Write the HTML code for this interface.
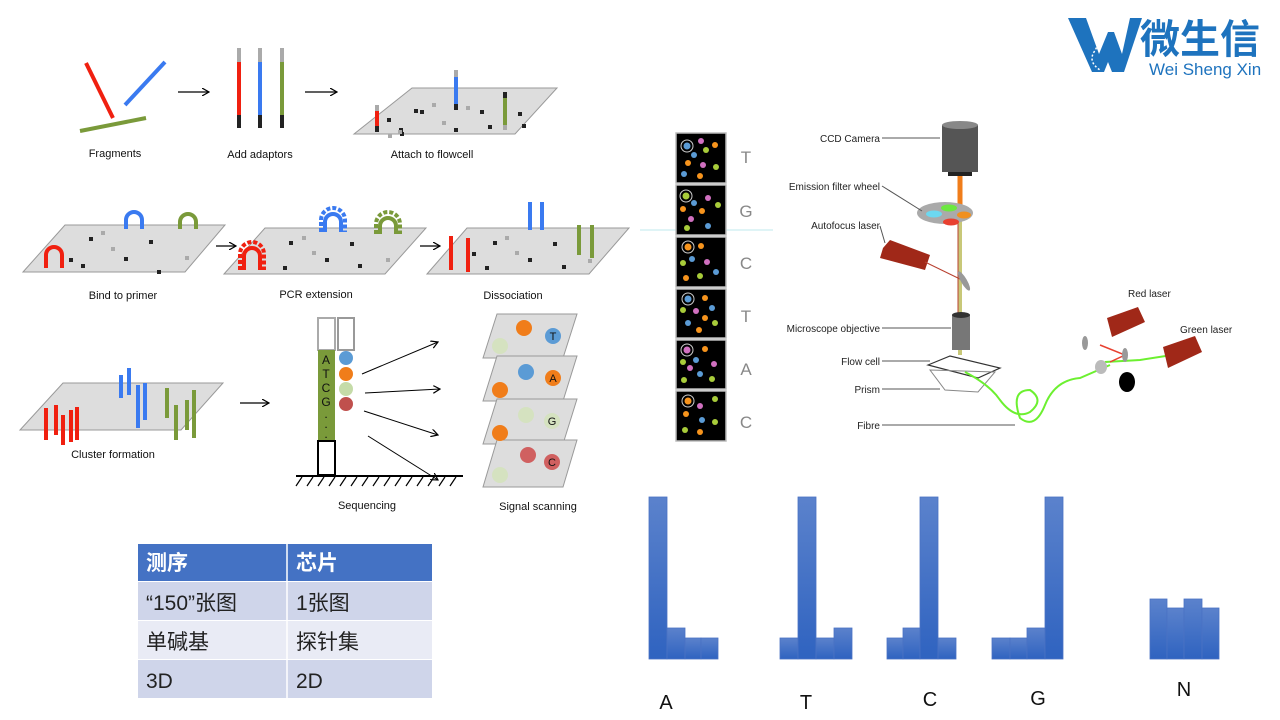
<!DOCTYPE html>
<html><head><meta charset="utf-8"><style>
body{margin:0;background:#fff;width:1280px;height:720px;overflow:hidden;font-family:"Liberation Sans","Noto Sans CJK SC",sans-serif}
svg{position:absolute;left:0;top:0}
.l{font-family:"Liberation Sans",sans-serif;font-size:11px;fill:#111}
.g{font-family:"Liberation Sans",sans-serif;font-size:10px;fill:#222}
.tc{font-family:"Liberation Sans","Noto Sans CJK SC",sans-serif;font-size:21px}
</style></head><body>
<svg width="1280" height="720" viewBox="0 0 1280 720">
<defs>
<marker id="ar" markerWidth="8" markerHeight="8" refX="7" refY="4" orient="auto" markerUnits="userSpaceOnUse"><path d="M0,0 L7,4 L0,8" fill="none" stroke="#000" stroke-width="1.2"/></marker>
<linearGradient id="bar" x1="0" y1="0" x2="0" y2="1"><stop offset="0" stop-color="#5b82cc"/><stop offset="1" stop-color="#2f63c0"/></linearGradient>
</defs>

<!-- Row 1 -->
<line x1="86" y1="63" x2="113" y2="118" stroke="#f02010" stroke-width="4"/>
<line x1="125" y1="105" x2="165" y2="62" stroke="#3a7af0" stroke-width="4"/>
<line x1="80" y1="131" x2="146" y2="118" stroke="#7a9a3a" stroke-width="4"/>
<text class="l" x="115" y="157" text-anchor="middle">Fragments</text>
<line x1="178" y1="92" x2="209" y2="92" stroke="#000" stroke-width="1.2" marker-end="url(#ar)"/>
<g stroke-width="4">
<line x1="239" y1="48" x2="239" y2="62" stroke="#aaa"/><line x1="239" y1="62" x2="239" y2="115" stroke="#f02010"/><line x1="239" y1="115" x2="239" y2="128" stroke="#222"/>
<line x1="260" y1="48" x2="260" y2="62" stroke="#aaa"/><line x1="260" y1="62" x2="260" y2="115" stroke="#3a7af0"/><line x1="260" y1="115" x2="260" y2="128" stroke="#222"/>
<line x1="282" y1="48" x2="282" y2="62" stroke="#aaa"/><line x1="282" y1="62" x2="282" y2="115" stroke="#7a9a3a"/><line x1="282" y1="115" x2="282" y2="128" stroke="#222"/>
</g>
<text class="l" x="260" y="158" text-anchor="middle">Add adaptors</text>
<line x1="305" y1="92" x2="337" y2="92" stroke="#000" stroke-width="1.2" marker-end="url(#ar)"/>
<polygon points="354,134 412,88 557,88 515,134" fill="#ddd" stroke="#999"/>
<g fill="#222"><rect x="387" y="118" width="4" height="4"/><rect x="400" y="132" width="4" height="4"/><rect x="420" y="110" width="4" height="4"/><rect x="454" y="128" width="4" height="4"/><rect x="480" y="110" width="4" height="4"/><rect x="488" y="125" width="4" height="4"/><rect x="518" y="112" width="4" height="4"/><rect x="522" y="124" width="4" height="4"/><rect x="414" y="109" width="4" height="4"/><rect x="399" y="128" width="4" height="4"/></g>
<g fill="#aaa"><rect x="432" y="103" width="4" height="4"/><rect x="398" y="130" width="4" height="4"/><rect x="466" y="106" width="4" height="4"/><rect x="442" y="121" width="4" height="4"/><rect x="388" y="134" width="4" height="4"/></g>
<g stroke-width="4"><line x1="377" y1="105" x2="377" y2="111" stroke="#aaa"/><line x1="377" y1="111" x2="377" y2="126" stroke="#f02010"/><line x1="377" y1="126" x2="377" y2="132" stroke="#222"/>
<line x1="456" y1="70" x2="456" y2="77" stroke="#aaa"/><line x1="456" y1="77" x2="456" y2="104" stroke="#3a7af0"/><line x1="456" y1="104" x2="456" y2="110" stroke="#222"/>
<line x1="505" y1="92" x2="505" y2="98" stroke="#222"/><line x1="505" y1="98" x2="505" y2="125" stroke="#7a9a3a"/><line x1="505" y1="125" x2="505" y2="130" stroke="#aaa"/></g>
<text class="l" x="432" y="158" text-anchor="middle">Attach to flowcell</text>

<!-- Row 2 -->
<polygon points="23,272 65,225 225,225 185,272" fill="#ddd" stroke="#999"/>
<polygon points="224,274 265,228 426,228 385,274" fill="#ddd" stroke="#999"/>
<polygon points="427,274 467,228 629,228 589,274" fill="#ddd" stroke="#999"/>
<g fill="#222"><rect x="89" y="237" width="4" height="4"/><rect x="124" y="257" width="4" height="4"/><rect x="149" y="240" width="4" height="4"/><rect x="157" y="270" width="4" height="4"/><rect x="69" y="258" width="4" height="4"/><rect x="81" y="264" width="4" height="4"/><rect x="289" y="241" width="4" height="4"/><rect x="325" y="258" width="4" height="4"/><rect x="350" y="242" width="4" height="4"/><rect x="358" y="264" width="4" height="4"/><rect x="283" y="266" width="4" height="4"/><rect x="493" y="241" width="4" height="4"/><rect x="528" y="258" width="4" height="4"/><rect x="553" y="242" width="4" height="4"/><rect x="562" y="265" width="4" height="4"/><rect x="485" y="266" width="4" height="4"/><rect x="472" y="252" width="4" height="4"/></g>
<g fill="#aaa"><rect x="101" y="231" width="4" height="4"/><rect x="111" y="247" width="4" height="4"/><rect x="185" y="256" width="4" height="4"/><rect x="302" y="236" width="4" height="4"/><rect x="312" y="251" width="4" height="4"/><rect x="386" y="258" width="4" height="4"/><rect x="505" y="236" width="4" height="4"/><rect x="515" y="251" width="4" height="4"/><rect x="588" y="259" width="4" height="4"/></g>
<g fill="none" stroke-width="4">
<path d="M46,268 V255 A8,8 0 0 1 62,255 V268" stroke="#f02010"/>
<path d="M126,229 V220 A8,8 0 0 1 142,220 V229" stroke="#3a7af0"/>
<path d="M180,229 V222 A8,8 0 0 1 196,222 V229" stroke="#7a9a3a"/>
<path d="M244,270 V256 A8,8 0 0 1 260,256 V270" stroke="#f02010"/>
<path d="M240,270 V254 A12,12 0 0 1 264,254 V270" stroke="#f02010" stroke-dasharray="4,2"/>
<path d="M325,232 V222 A8,8 0 0 1 341,222 V232" stroke="#3a7af0"/>
<path d="M321,232 V220 A12,12 0 0 1 345,220 V232" stroke="#3a7af0" stroke-dasharray="4,2"/>
<path d="M380,234 V226 A8,8 0 0 1 396,226 V234" stroke="#7a9a3a"/>
<path d="M376,234 V224 A12,12 0 0 1 400,224 V234" stroke="#7a9a3a" stroke-dasharray="4,2"/>
</g>
<g stroke-width="4">
<line x1="451" y1="236" x2="451" y2="270" stroke="#f02010"/><line x1="468" y1="238" x2="468" y2="272" stroke="#f02010"/>
<line x1="530" y1="202" x2="530" y2="230" stroke="#3a7af0"/><line x1="542" y1="202" x2="542" y2="230" stroke="#3a7af0"/>
<line x1="579" y1="225" x2="579" y2="255" stroke="#7a9a3a"/><line x1="592" y1="225" x2="592" y2="258" stroke="#7a9a3a"/>
</g>
<line x1="216" y1="246" x2="236" y2="246" stroke="#000" stroke-width="1.2" marker-end="url(#ar)"/>
<line x1="420" y1="246" x2="440" y2="246" stroke="#000" stroke-width="1.2" marker-end="url(#ar)"/>
<text class="l" x="123" y="299" text-anchor="middle">Bind to primer</text>
<text class="l" x="316" y="298" text-anchor="middle">PCR extension</text>
<text class="l" x="513" y="299" text-anchor="middle">Dissociation</text>
<line x1="640" y1="230" x2="773" y2="230" stroke="#bfe8ee" stroke-width="1"/>

<!-- Row 3 -->
<polygon points="20,430 63,383 223,383 181,430" fill="#ddd" stroke="#999"/>
<g stroke-width="4">
<line x1="46" y1="408" x2="46" y2="440" stroke="#f02010"/><line x1="56" y1="405" x2="56" y2="435" stroke="#f02010"/><line x1="63" y1="415" x2="63" y2="445" stroke="#f02010"/><line x1="71" y1="410" x2="71" y2="442" stroke="#f02010"/><line x1="77" y1="407" x2="77" y2="440" stroke="#f02010"/>
<line x1="121" y1="375" x2="121" y2="398" stroke="#3a7af0"/><line x1="129" y1="368" x2="129" y2="395" stroke="#3a7af0"/><line x1="138" y1="385" x2="138" y2="428" stroke="#3a7af0"/><line x1="145" y1="383" x2="145" y2="420" stroke="#3a7af0"/>
<line x1="167" y1="388" x2="167" y2="418" stroke="#7a9a3a"/><line x1="176" y1="405" x2="176" y2="440" stroke="#7a9a3a"/><line x1="187" y1="400" x2="187" y2="430" stroke="#7a9a3a"/><line x1="194" y1="390" x2="194" y2="438" stroke="#7a9a3a"/>
</g>
<line x1="240" y1="403" x2="269" y2="403" stroke="#000" stroke-width="1.2" marker-end="url(#ar)"/>
<text class="l" x="113" y="458" text-anchor="middle">Cluster formation</text>

<rect x="318" y="318" width="17" height="32" fill="#fff" stroke="#aaa" stroke-width="2"/>
<rect x="338" y="318" width="16" height="32" fill="#fff" stroke="#999" stroke-width="2"/>
<rect x="318" y="350" width="17" height="91" fill="#7a9a3a"/>
<rect x="318" y="441" width="17" height="34" fill="#fff" stroke="#000" stroke-width="2"/>
<g font-family="Liberation Sans" font-size="12" text-anchor="middle" fill="#111"><text x="326" y="364">A</text><text x="326" y="378">T</text><text x="326" y="392">C</text><text x="326" y="406">G</text><text x="326" y="418">.</text><text x="326" y="428">.</text><text x="326" y="438">.</text></g>
<circle cx="346" cy="358" r="7" fill="#5b9bd5"/><circle cx="346" cy="374" r="7" fill="#f07d1a"/><circle cx="346" cy="389" r="7" fill="#c5dba8"/><circle cx="346" cy="404" r="7" fill="#c0504d"/>
<line x1="296" y1="476" x2="463" y2="476" stroke="#000" stroke-width="2"/>
<path d="M302,477 l-6,9 M313,477 l-6,9 M324,477 l-6,9 M335,477 l-6,9 M346,477 l-6,9 M357,477 l-6,9 M368,477 l-6,9 M379,477 l-6,9 M390,477 l-6,9 M401,477 l-6,9 M412,477 l-6,9 M423,477 l-6,9 M434,477 l-6,9 M445,477 l-6,9 M456,477 l-6,9" stroke="#000" stroke-width="1.2"/>
<g stroke="#000" stroke-width="1" marker-end="url(#ar)"><line x1="362" y1="374" x2="438" y2="342"/><line x1="365" y1="393" x2="440" y2="389"/><line x1="364" y1="411" x2="438" y2="435"/><line x1="368" y1="436" x2="438" y2="480"/></g>
<text class="l" x="367" y="509" text-anchor="middle">Sequencing</text>
<g stroke="#999" fill="#ddd">
<polygon points="483,358 497,314 577,314 563,358"/>
<polygon points="483,401 497,356 577,356 563,401"/>
<polygon points="483,444 497,399 577,399 563,444"/>
<polygon points="483,487 497,440 577,440 563,487"/>
</g>
<circle cx="524" cy="328" r="8" fill="#f07d1a"/><circle cx="500" cy="346" r="8" fill="#d5e2c0"/><circle cx="553" cy="336" r="8" fill="#5b9bd5"/>
<circle cx="526" cy="372" r="8" fill="#5b9bd5"/><circle cx="500" cy="390" r="8" fill="#f07d1a"/><circle cx="553" cy="378" r="8" fill="#f07d1a"/>
<circle cx="526" cy="415" r="8" fill="#d5e2c0"/><circle cx="500" cy="433" r="8" fill="#f07d1a"/><circle cx="552" cy="421" r="8" fill="#d5e2c0"/>
<circle cx="528" cy="455" r="8" fill="#d06060"/><circle cx="500" cy="475" r="8" fill="#d5e2c0"/><circle cx="552" cy="462" r="8" fill="#d06060"/>
<g font-family="Liberation Sans" font-size="11" text-anchor="middle" fill="#111"><text x="553" y="340">T</text><text x="553" y="382">A</text><text x="552" y="425">G</text><text x="552" y="466">C</text></g>
<text class="l" x="538" y="510" text-anchor="middle">Signal scanning</text>

<!-- image strip -->
<g stroke="#bbb" stroke-width="1.5" fill="#000">
<rect x="676" y="133" width="50" height="50"/><rect x="676" y="185" width="50" height="50"/><rect x="676" y="237" width="50" height="50"/><rect x="676" y="289" width="50" height="49"/><rect x="676" y="340" width="50" height="49"/><rect x="676" y="391" width="50" height="50"/>
</g>
<g>
<circle cx="687" cy="146" r="6" fill="none" stroke="#ccc"/><circle cx="687" cy="146" r="3.5" fill="#5b9bd5"/><circle cx="701" cy="141" r="3" fill="#d070c0"/><circle cx="715" cy="145" r="3" fill="#f7941d"/><circle cx="706" cy="150" r="3" fill="#a8cc3a"/><circle cx="694" cy="155" r="3" fill="#5b9bd5"/><circle cx="688" cy="163" r="3" fill="#f7941d"/><circle cx="703" cy="165" r="3" fill="#d070c0"/><circle cx="716" cy="167" r="3" fill="#a8cc3a"/><circle cx="684" cy="174" r="3" fill="#5b9bd5"/><circle cx="700" cy="176" r="3" fill="#f7941d"/>
<circle cx="686" cy="196" r="6" fill="none" stroke="#ccc"/><circle cx="686" cy="196" r="3.5" fill="#a8cc3a"/><circle cx="708" cy="198" r="3" fill="#d070c0"/><circle cx="694" cy="203" r="3" fill="#5b9bd5"/><circle cx="683" cy="209" r="3" fill="#f7941d"/><circle cx="702" cy="211" r="3" fill="#f7941d"/><circle cx="718" cy="205" r="3" fill="#a8cc3a"/><circle cx="691" cy="219" r="3" fill="#d070c0"/><circle cx="687" cy="228" r="3" fill="#a8cc3a"/><circle cx="708" cy="226" r="3" fill="#5b9bd5"/>
<circle cx="688" cy="247" r="6" fill="none" stroke="#ccc"/><circle cx="688" cy="247" r="3.5" fill="#f7941d"/><circle cx="701" cy="246" r="3" fill="#f7941d"/><circle cx="692" cy="259" r="3" fill="#5b9bd5"/><circle cx="683" cy="263" r="3" fill="#a8cc3a"/><circle cx="707" cy="262" r="3" fill="#d070c0"/><circle cx="686" cy="278" r="3" fill="#f7941d"/><circle cx="700" cy="276" r="3" fill="#a8cc3a"/><circle cx="716" cy="272" r="3" fill="#5b9bd5"/>
<circle cx="688" cy="299" r="6" fill="none" stroke="#ccc"/><circle cx="688" cy="299" r="3.5" fill="#5b9bd5"/><circle cx="705" cy="298" r="3" fill="#f7941d"/><circle cx="683" cy="310" r="3" fill="#a8cc3a"/><circle cx="696" cy="311" r="3" fill="#d070c0"/><circle cx="712" cy="308" r="3" fill="#5b9bd5"/><circle cx="705" cy="318" r="3" fill="#f7941d"/><circle cx="688" cy="323" r="3" fill="#5b9bd5"/><circle cx="715" cy="323" r="3" fill="#a8cc3a"/><circle cx="699" cy="330" r="3" fill="#f7941d"/>
<circle cx="687" cy="350" r="6" fill="none" stroke="#ccc"/><circle cx="687" cy="350" r="3.5" fill="#d070c0"/><circle cx="705" cy="349" r="3" fill="#f7941d"/><circle cx="696" cy="360" r="3" fill="#5b9bd5"/><circle cx="683" cy="362" r="3" fill="#a8cc3a"/><circle cx="690" cy="368" r="3" fill="#d070c0"/><circle cx="714" cy="364" r="3" fill="#d070c0"/><circle cx="700" cy="374" r="3" fill="#5b9bd5"/><circle cx="684" cy="380" r="3" fill="#a8cc3a"/><circle cx="712" cy="379" r="3" fill="#a8cc3a"/>
<circle cx="688" cy="401" r="6" fill="none" stroke="#ccc"/><circle cx="688" cy="401" r="3.5" fill="#f7941d"/><circle cx="715" cy="399" r="3" fill="#a8cc3a"/><circle cx="700" cy="406" r="3" fill="#d070c0"/><circle cx="686" cy="414" r="3" fill="#f7941d"/><circle cx="702" cy="420" r="3" fill="#5b9bd5"/><circle cx="715" cy="422" r="3" fill="#a8cc3a"/><circle cx="685" cy="430" r="3" fill="#a8cc3a"/><circle cx="700" cy="432" r="3" fill="#f7941d"/>
</g>
<g font-family="Liberation Sans" font-size="17" fill="#888" text-anchor="middle"><text x="746" y="163">T</text><text x="746" y="217">G</text><text x="746" y="269">C</text><text x="746" y="322">T</text><text x="746" y="375">A</text><text x="746" y="428">C</text></g>

<!-- microscope -->
<line x1="960" y1="175" x2="960" y2="215" stroke="#f07d1a" stroke-width="5"/>
<line x1="960" y1="215" x2="960" y2="355" stroke="#c8c878" stroke-width="4"/>
<line x1="958" y1="215" x2="958" y2="330" stroke="#b84030" stroke-width="1"/>
<rect x="942" y="125" width="36" height="47" fill="#555"/>
<ellipse cx="960" cy="125" rx="18" ry="4" fill="#888"/>
<rect x="948" y="172" width="24" height="4" fill="#222"/>
<ellipse cx="945" cy="213" rx="28" ry="11" fill="#aaa"/>
<ellipse cx="949" cy="208" rx="8" ry="3.5" fill="#6ce840"/><ellipse cx="934" cy="214" rx="8" ry="3.5" fill="#6cd8f0"/><ellipse cx="964" cy="215" rx="7" ry="3.5" fill="#f09020"/><ellipse cx="951" cy="222" rx="8" ry="3.5" fill="#e84030"/>
<polygon points="883,248 890,240 930,255 925,270 880,258" fill="#a02818"/>
<line x1="925" y1="262" x2="962" y2="280" stroke="#b84030" stroke-width="1"/>
<ellipse cx="964" cy="281" rx="3" ry="11" transform="rotate(-30 964 281)" fill="#999"/>
<rect x="952" y="315" width="18" height="35" fill="#777"/><ellipse cx="961" cy="315" rx="9" ry="3" fill="#333"/>
<polygon points="928,365 950,356 1000,368 978,378" fill="none" stroke="#333" stroke-width="1.2"/>
<polygon points="930,370 995,372 978,392 945,390" fill="none" stroke="#888" stroke-width="1"/>
<path d="M965,372 Q990,385 1000,400 Q1015,420 1030,412 Q1045,400 1030,390 Q1010,390 1020,418 Q1035,430 1045,405 Q1055,380 1080,378 L1110,365" fill="none" stroke="#6cf030" stroke-width="2"/>
<path d="M1105,362 L1140,360 L1185,353" fill="none" stroke="#6cf030" stroke-width="2"/>
<path d="M1100,345 L1125,355 L1110,362" fill="none" stroke="#e84030" stroke-width="1.5"/>
<ellipse cx="1085" cy="343" rx="3" ry="7" fill="#999"/><ellipse cx="1125" cy="355" rx="3" ry="7" fill="#999"/><ellipse cx="1101" cy="367" rx="6" ry="7" fill="#bbb"/>
<ellipse cx="1127" cy="382" rx="8" ry="10" fill="#000"/>
<polygon points="1107,318 1138,307 1145,322 1112,337" fill="#a02818"/>
<polygon points="1163,347 1195,336 1202,352 1168,368" fill="#a02818"/>
<g stroke="#555" stroke-width="1" fill="none"><line x1="882" y1="138" x2="940" y2="138"/><line x1="882" y1="186" x2="922" y2="211"/><line x1="880" y1="226" x2="885" y2="243"/><line x1="882" y1="328" x2="951" y2="328"/><line x1="882" y1="361" x2="930" y2="361"/><line x1="882" y1="389" x2="940" y2="389"/><line x1="882" y1="425" x2="1015" y2="425"/></g>
<g class="g" text-anchor="end"><text x="880" y="142">CCD Camera</text><text x="880" y="190">Emission filter wheel</text><text x="880" y="229">Autofocus laser</text><text x="880" y="332">Microscope objective</text><text x="880" y="365">Flow cell</text><text x="880" y="393">Prism</text><text x="880" y="429">Fibre</text></g>
<text class="g" x="1128" y="297">Red laser</text><text class="g" x="1180" y="333">Green  laser</text>

<!-- bars -->
<g fill="url(#bar)" stroke="#4a72c4" stroke-width="0.8">
<rect x="649" y="497" width="18" height="162"/><rect x="667" y="628" width="18" height="31"/><rect x="685" y="638" width="16" height="21"/><rect x="701" y="638" width="17" height="21"/>
<rect x="780" y="638" width="18" height="21"/><rect x="798" y="497" width="18" height="162"/><rect x="816" y="638" width="18" height="21"/><rect x="834" y="628" width="18" height="31"/>
<rect x="887" y="638" width="16" height="21"/><rect x="903" y="628" width="17" height="31"/><rect x="920" y="497" width="18" height="162"/><rect x="938" y="638" width="18" height="21"/>
<rect x="992" y="638" width="18" height="21"/><rect x="1010" y="638" width="17" height="21"/><rect x="1027" y="628" width="18" height="31"/><rect x="1045" y="497" width="18" height="162"/>
<rect x="1150" y="599" width="17" height="60"/><rect x="1167" y="608" width="17" height="51"/><rect x="1184" y="599" width="18" height="60"/><rect x="1202" y="608" width="17" height="51"/>
</g>
<g font-family="Liberation Sans" font-size="20" fill="#111" text-anchor="middle"><text x="666" y="709">A</text><text x="806" y="709">T</text><text x="930" y="706">C</text><text x="1038" y="705">G</text><text x="1184" y="696">N</text></g>

<!-- table -->
<rect x="138" y="544" width="294" height="37" fill="#4472c4"/>
<rect x="138" y="582" width="294" height="38" fill="#cfd5ea"/>
<rect x="138" y="621" width="294" height="38" fill="#e9ebf5"/>
<rect x="138" y="660" width="294" height="38" fill="#cfd5ea"/>
<line x1="287" y1="544" x2="287" y2="698" stroke="#fff" stroke-width="1.5"/>
<g class="tc"><text x="146" y="570" fill="#fff" font-weight="bold">测序</text><text x="296" y="570" fill="#fff" font-weight="bold">芯片</text>
<text x="146" y="610" fill="#222">“150”张图</text><text x="296" y="610" fill="#222">1张图</text>
<text x="146" y="649" fill="#222">单碱基</text><text x="296" y="649" fill="#222">探针集</text>
<text x="146" y="688" fill="#222">3D</text><text x="296" y="688" fill="#222">2D</text></g>

<!-- logo -->
<polygon points="1068,18 1086,18 1099,54 1108,32 1114,32 1122,54 1130,18 1142,18 1124,72 1112,72 1108,62 1104,72 1092,72" fill="#1e73be"/>
<path d="M1090,22 Q1104,38 1094,52 Q1088,62 1100,70" fill="none" stroke="#fff" stroke-width="1.5" stroke-dasharray="2,2"/>
<text x="1140" y="53" font-family="Noto Sans CJK SC,sans-serif" font-weight="bold" font-size="40" fill="#1e73be">微生信</text>
<text x="1149" y="75" font-family="Liberation Sans,sans-serif" font-size="17" fill="#1e73be">Wei Sheng Xin</text>
</svg>
</body></html>
